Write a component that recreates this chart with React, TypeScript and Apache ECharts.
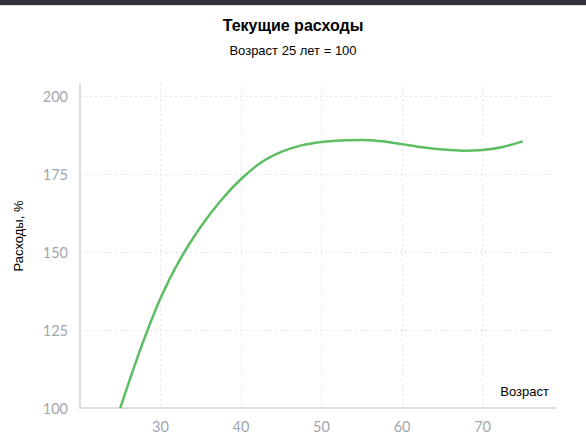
import React, { useEffect, useRef } from "react";
import * as echarts from "echarts";

const ages = [25, 27.5, 30, 32.5, 35, 37.5, 40, 42.5, 45, 47.5, 50, 52.5, 55, 57.5, 60, 62.5, 65, 67.5, 70, 72.5, 75];
const spending = [100, 118.8, 135.2, 148, 158.2, 166.6, 173.5, 178.8, 182.2, 184.3, 185.4, 185.9, 186.0, 185.6, 184.7, 183.7, 183.0, 182.6, 182.8, 183.8, 185.6];
const xTicks = [20, 30, 40, 50, 60, 70];
const yTicks = [100, 125, 150, 175, 200];

const titleText = "Текущие расходы";
const subtitleText = "Возраст 25 лет = 100";
const yName = "Расходы, %";
const xName = "Возраст";

export default function App() {
  const ref = useRef<HTMLDivElement>(null);
  useEffect(() => {
    if (!ref.current) return;
    const chart = echarts.init(ref.current, undefined, { renderer: "svg" });
    const labelColor = "#a2a6ad";
    const gridColor = "#e4e4e8";
    chart.setOption({
      animation: false,
      backgroundColor: "#ffffff",
      title: {
        text: titleText,
        subtext: subtitleText,
        left: "center",
        top: 12,
        itemGap: 11,
        textStyle: { fontFamily: "Liberation Sans", fontSize: 16, fontWeight: "bold", color: "#000000" },
        subtextStyle: { fontFamily: "Liberation Sans", fontSize: 13, color: "#000000" },
      },
      grid: { left: 80, right: 31, top: 84, bottom: 39, containLabel: false },
      xAxis: {
        type: "value",
        min: xTicks[0],
        max: 79,
        interval: 10,
        axisLine: { show: true, lineStyle: { color: "#dcdce2", width: 2 } },
        axisTick: { show: false },
        axisLabel: {
          showMinLabel: false,
          showMaxLabel: false,
          color: labelColor,
          fontFamily: "Lato",
          fontSize: 14.5,
          margin: 11,
        },
        splitLine: { show: true, showMaxLine: false, lineStyle: { color: gridColor, type: [2, 3], width: 1 } },
      },
      yAxis: {
        type: "value",
        min: yTicks[0],
        max: 204,
        interval: 25,
        axisLine: { show: true, lineStyle: { color: "#dcdce2", width: 2 } },
        axisTick: { show: false },
        axisLabel: {
          showMaxLabel: false,
          color: labelColor,
          fontFamily: "Lato",
          fontSize: 14.5,
          margin: 12,
        },
        splitLine: { show: true, showMaxLine: false, lineStyle: { color: gridColor, type: [2, 3], width: 1 } },
      },
      series: [
        {
          type: "line",
          data: ages.map((a, i) => [a, spending[i]]),
          smooth: 0.3,
          showSymbol: false,
          symbol: "none",
          lineStyle: { color: "#5cbd63", width: 2.5 },
          z: 5,
        },
      ],
      graphic: [
        { type: "rect", left: 0, top: 0, shape: { width: 586, height: 5 }, style: { fill: "#2f3337" }, z: 100 },
        { type: "rect", left: 0, top: 5, shape: { width: 586, height: 1 }, style: { fill: "#dddddd" }, z: 100 },
        {
          type: "text",
          x: 18,
          y: 236,
          rotation: Math.PI / 2,
          style: {
            text: yName,
            fontFamily: "Liberation Sans",
            fontSize: 13,
            fill: "#000000",
            align: "center",
            verticalAlign: "middle",
          },
        },
        {
          type: "text",
          x: 549,
          y: 391,
          style: {
            text: xName,
            fontFamily: "Liberation Sans",
            fontSize: 13,
            fill: "#000000",
            align: "right",
            verticalAlign: "middle",
          },
        },
      ],
    });
    return () => chart.dispose();
  }, []);
  return (
    <div
      ref={ref}
      style={{ position: "fixed", left: 0, top: 0, width: 586, height: 447, background: "#fff" }}
    />
  );
}
